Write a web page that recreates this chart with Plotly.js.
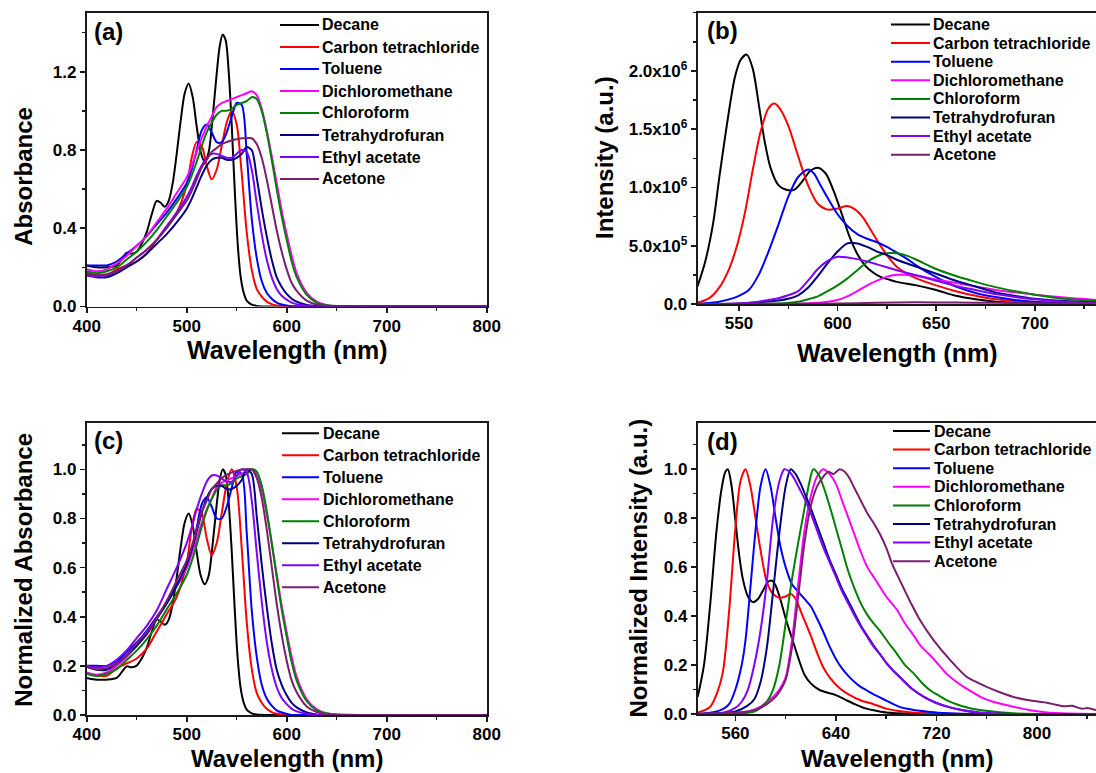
<!DOCTYPE html>
<html>
<head>
<meta charset="utf-8">
<script src="https://cdn.plot.ly/plotly-3.0.1.min.js"></script>
<style>
  html, body { margin: 0; padding: 0; background: #ffffff; }
  #chart { width: 1096px; height: 773px; }
</style>
</head>
<body>
<div id="chart"></div>
<script>
// ---------- solvents and colours ----------
const solvents = ['Decane', 'Carbon tetrachloride', 'Toluene', 'Dichloromethane',
                  'Chloroform', 'Tetrahydrofuran', 'Ethyl acetate', 'Acetone'];
const solventColors = ['#000000', '#ff0000', '#0000ff', '#ff00ff',
                       '#008000', '#000080', '#8000ff', '#7a1e6e'];

// ---------- (a) absorption spectra ----------
const absWl = [400,410,420,430,440,450,460,470,480,490,500,505,510,515,520,525,530,535,540,545,
               550,555,560,565,570,575,580,585,590,595,600,605,610,620,630,640,650,700,800];
const absDecaneWl = [400,410,420,430,436,440,445,450,455,460,465,470,474,478,482,486,490,494,498,502,
                     506,510,514,518,522,526,530,533,536,539,542,545,548,551,554,557,560,565,570,580,600,700,800];
const absDecane = [0.21,0.20,0.20,0.21,0.25,0.275,0.27,0.28,0.32,0.38,0.47,0.54,0.53,0.51,0.54,0.63,0.78,0.95,1.09,1.14,
                   1.07,0.92,0.79,0.74,0.79,0.97,1.19,1.33,1.39,1.36,1.20,0.93,0.60,0.32,0.15,0.07,0.03,0.01,0.003,0,0,0,0];
const absCCl4 = [0.17,0.16,0.16,0.19,0.21,0.23,0.27,0.34,0.41,0.48,0.62,0.76,0.84,0.82,0.72,0.65,0.70,0.82,0.94,1.00,
                 0.93,0.68,0.38,0.19,0.09,0.05,0.025,0.012,0.005,0.002,0,0,0,0,0,0,0,0,0];
const absToluene = [0.21,0.21,0.21,0.23,0.27,0.31,0.36,0.42,0.48,0.55,0.63,0.70,0.80,0.90,0.93,0.89,0.84,0.84,0.89,0.97,
                    1.04,1.03,0.78,0.45,0.25,0.13,0.07,0.04,0.02,0.01,0.005,0,0,0,0,0,0,0,0];
const absDCM = [0.19,0.18,0.19,0.22,0.26,0.31,0.36,0.43,0.50,0.58,0.66,0.72,0.79,0.86,0.92,0.97,1.02,1.04,1.05,1.06,
                1.07,1.08,1.09,1.10,1.08,1.01,0.90,0.77,0.63,0.49,0.37,0.26,0.17,0.07,0.025,0.008,0.002,0,0];
const absChloroform = [0.18,0.17,0.18,0.20,0.24,0.28,0.33,0.39,0.46,0.53,0.61,0.67,0.74,0.82,0.89,0.94,0.98,1.00,1.00,1.01,
                       1.03,1.04,1.05,1.07,1.06,1.00,0.89,0.75,0.60,0.46,0.34,0.23,0.15,0.06,0.02,0.006,0.002,0,0];
const absTHF = [0.16,0.15,0.15,0.17,0.20,0.23,0.27,0.32,0.37,0.43,0.50,0.55,0.61,0.67,0.72,0.75,0.76,0.76,0.75,0.75,
                0.76,0.78,0.815,0.80,0.66,0.50,0.36,0.24,0.15,0.10,0.065,0.04,0.025,0.008,0.002,0,0,0,0];
const absEtOAc = [0.16,0.155,0.16,0.18,0.21,0.25,0.29,0.34,0.41,0.48,0.56,0.61,0.67,0.72,0.76,0.78,0.78,0.77,0.76,0.76,
                  0.78,0.80,0.79,0.70,0.53,0.37,0.24,0.15,0.09,0.055,0.035,0.02,0.012,0.004,0,0,0,0,0];
const absAcetone = [0.17,0.16,0.165,0.18,0.21,0.25,0.29,0.34,0.40,0.47,0.54,0.59,0.65,0.71,0.75,0.79,0.81,0.83,0.84,0.85,
                    0.855,0.86,0.86,0.86,0.83,0.76,0.65,0.52,0.39,0.28,0.19,0.12,0.08,0.03,0.01,0.003,0,0,0];

// ---------- (c) normalized absorption ----------
const nAbsDecane = [0.151,0.144,0.144,0.151,0.180,0.198,0.194,0.201,0.230,0.273,0.338,0.388,0.381,0.367,0.388,0.453,0.561,0.683,0.784,0.820,
                    0.770,0.662,0.568,0.532,0.568,0.698,0.856,0.957,1.000,0.978,0.863,0.669,0.432,0.230,0.108,0.050,0.022,0.007,0.002,0,0,0,0];
const nAbsCCl4 = [0.17,0.16,0.16,0.19,0.21,0.23,0.27,0.34,0.41,0.48,0.62,0.76,0.84,0.82,0.72,0.65,0.70,0.82,0.94,1.00,
                  0.93,0.68,0.38,0.19,0.09,0.05,0.025,0.012,0.005,0.002,0,0,0,0,0,0,0,0,0];
const nAbsToluene = [0.200,0.200,0.200,0.219,0.257,0.295,0.343,0.400,0.457,0.524,0.600,0.667,0.762,0.857,0.886,0.848,0.800,0.800,0.848,0.924,
                     0.990,0.981,0.743,0.429,0.238,0.124,0.067,0.038,0.019,0.010,0.005,0,0,0,0,0,0,0,0];
const nAbsDCM = [0.173,0.164,0.173,0.200,0.236,0.282,0.327,0.391,0.455,0.527,0.600,0.655,0.718,0.782,0.836,0.882,0.927,0.945,0.955,0.964,
                 0.973,0.982,0.991,1.000,0.982,0.918,0.818,0.700,0.573,0.445,0.336,0.236,0.155,0.064,0.023,0.007,0.002,0,0];
const nAbsChloroform = [0.168,0.159,0.168,0.187,0.224,0.262,0.308,0.364,0.430,0.495,0.570,0.626,0.692,0.766,0.832,0.879,0.916,0.935,0.935,0.944,
                        0.963,0.972,0.981,1.000,0.991,0.935,0.832,0.701,0.561,0.430,0.318,0.215,0.140,0.056,0.019,0.006,0.002,0,0];
const nAbsTHF = [0.196,0.184,0.184,0.209,0.245,0.282,0.331,0.393,0.454,0.528,0.613,0.675,0.748,0.822,0.883,0.920,0.933,0.933,0.920,0.920,
                 0.933,0.957,1.000,0.982,0.810,0.613,0.442,0.294,0.184,0.123,0.080,0.049,0.031,0.010,0.002,0,0,0,0];
const nAbsEtOAc = [0.200,0.194,0.200,0.225,0.263,0.313,0.363,0.425,0.513,0.600,0.700,0.763,0.838,0.900,0.950,0.975,0.975,0.963,0.950,0.950,
                   0.975,1.000,0.988,0.875,0.663,0.463,0.300,0.188,0.113,0.069,0.044,0.025,0.015,0.005,0,0,0,0,0];
const nAbsAcetone = [0.198,0.186,0.192,0.209,0.244,0.291,0.337,0.395,0.465,0.547,0.628,0.686,0.756,0.826,0.872,0.919,0.942,0.965,0.977,0.988,
                     0.994,1.000,1.000,1.000,0.965,0.884,0.756,0.605,0.453,0.326,0.221,0.140,0.093,0.035,0.012,0.003,0,0,0];

// ---------- (b) emission spectra (intensity, a.u.) ----------
const emDecaneWl = [529,533,537,540,544,548,551,554,557,560,563,566,570,574,578,582,586,590,594,598,
                    602,606,610,614,618,622,626,630,640,650,660,670,680,690,700,731];
const emDecane = [1.5e5,3.7e5,7.0e5,1.08e6,1.55e6,1.95e6,2.10e6,2.14e6,2.02e6,1.72e6,1.40e6,1.17e6,1.02e6,9.8e5,9.8e5,1.05e6,1.14e6,1.17e6,1.12e6,9.7e5,
                  7.8e5,5.8e5,4.3e5,3.3e5,2.7e5,2.3e5,2.1e5,1.9e5,1.6e5,1.2e5,7e4,4e4,2e4,1e4,5e3,0];
const emCCl4Wl = [529,535,540,545,549,553,557,561,565,568,571,575,580,585,590,595,600,605,609,613,
                  617,621,625,630,635,640,650,660,670,680,690,700,715,731];
const emCCl4 = [1e4,5e4,1.4e5,3.0e5,5.0e5,7.8e5,1.15e6,1.48e6,1.68e6,1.72e6,1.67e6,1.53e6,1.27e6,1.02e6,8.6e5,8.1e5,8.2e5,8.4e5,8.1e5,7.4e5,
                6.3e5,5.2e5,4.2e5,3.2e5,2.6e5,2.2e5,1.6e5,1.1e5,7e4,4e4,2.5e4,1.5e4,6e3,2e3];
const emTolueneWl = [529,540,545,550,555,560,565,570,575,580,585,588,591,595,600,605,610,615,620,625,
                     630,635,640,650,660,670,680,690,700,715,731];
const emToluene = [0,2e4,4e4,7e4,1.2e5,2.5e5,4.5e5,6.8e5,9.2e5,1.09e6,1.155e6,1.12e6,1.03e6,9.1e5,7.7e5,6.7e5,6.0e5,5.6e5,5.3e5,4.9e5,
                   4.4e5,3.9e5,3.3e5,2.3e5,1.5e5,9.5e4,6e4,3.5e4,2e4,8e3,3e3];
const emDCMWl = [529,580,590,595,600,605,610,615,620,625,630,635,640,650,660,670,680,690,700,715,731];
const emDCM = [0,3e3,1e4,2e4,3.5e4,6.5e4,1.1e5,1.6e5,2.0e5,2.35e5,2.5e5,2.5e5,2.45e5,2.1e5,1.8e5,1.5e5,1.2e5,1.0e5,8e4,5.5e4,3.5e4];
const emChloroformWl = [529,570,580,585,590,595,600,605,610,615,620,625,630,635,640,650,660,670,680,690,700,715,731];
const emChloroform = [0,5e3,2e4,4e4,6.5e4,1.1e5,1.6e5,2.2e5,2.9e5,3.6e5,4.1e5,4.35e5,4.35e5,4.15e5,3.8e5,3.0e5,2.4e5,1.9e5,1.45e5,1.1e5,8e4,4.5e4,2.5e4];
const emTHFWl = [529,550,560,570,575,580,585,590,595,600,605,610,615,620,625,630,640,650,660,670,680,690,700,715,731];
const emTHF = [0,5e3,1.5e4,3e4,4.5e4,7.5e4,1.4e5,2.4e5,3.5e5,4.5e5,5.2e5,5.2e5,4.9e5,4.5e5,4.2e5,3.8e5,3.2e5,2.6e5,2.0e5,1.5e5,1.0e5,7e4,4.5e4,2.5e4,1.2e4];
const emEtOAcWl = [529,550,560,565,570,575,580,585,590,595,600,605,610,615,620,625,630,640,650,660,670,680,690,700,715,731];
const emEtOAc = [0,5e3,2e4,3.5e4,5e4,7.5e4,1.1e5,2.0e5,3.0e5,3.7e5,4.05e5,4.0e5,3.85e5,3.65e5,3.4e5,3.15e5,2.9e5,2.45e5,2.0e5,1.55e5,1.2e5,8.5e4,6e4,4e4,2e4,1e4];
const emAcetoneWl = [529,580,600,620,640,660,680,700,731];
const emAcetone = [0,2e3,5e3,1e4,1.4e4,1.3e4,1e4,7e3,4e3];

// ---------- (d) normalized emission ----------
const nEmDecaneWl = [530,535,540,545,549,552,554,557,560,563,566,570,574,578,582,586,589,592,596,600,
                     605,610,615,620,627,635,640,647,655,662,670,680,700,847];
const nEmDecane = [0.07,0.20,0.45,0.75,0.92,0.99,1.00,0.93,0.79,0.65,0.55,0.48,0.457,0.47,0.505,0.54,0.545,0.525,0.465,0.39,
                   0.31,0.23,0.16,0.125,0.098,0.085,0.077,0.06,0.04,0.025,0.015,0.006,0.001,0];
const nEmCCl4Wl = [530,540,545,550,555,560,564,568,572,576,580,585,590,595,600,604,608,612,616,620,
                   625,630,635,643,650,660,670,680,690,700,720,740,847];
const nEmCCl4 = [0.005,0.03,0.08,0.17,0.42,0.76,0.95,1.00,0.93,0.80,0.67,0.54,0.49,0.475,0.48,0.49,0.47,0.42,0.37,0.32,
                 0.25,0.19,0.15,0.105,0.08,0.055,0.04,0.022,0.012,0.006,0.002,0,0];
const nEmTolueneWl = [530,540,550,555,560,565,568,572,576,580,584,588,592,596,600,605,610,615,620,625,
                      630,635,640,645,650,655,660,665,670,675,680,690,700,715,730,750,847];
const nEmToluene = [0,0.005,0.02,0.04,0.10,0.20,0.30,0.52,0.75,0.93,1.00,0.93,0.80,0.68,0.60,0.53,0.50,0.47,0.44,0.39,
                    0.335,0.275,0.225,0.185,0.155,0.13,0.11,0.095,0.08,0.068,0.055,0.03,0.018,0.008,0.003,0,0];
const nEmDCMWl = [530,560,570,580,585,590,595,600,605,610,615,620,625,630,635,640,645,650,655,660,
                  665,670,675,680,688,695,702,708,715,722,728,735,742,750,755,765,781,795,808,820,847];
const nEmDCM = [0,0.005,0.01,0.03,0.05,0.07,0.10,0.15,0.30,0.53,0.75,0.89,0.97,1.00,0.98,0.94,0.87,0.80,0.73,0.66,
                0.60,0.56,0.52,0.48,0.43,0.37,0.32,0.275,0.24,0.20,0.165,0.135,0.11,0.085,0.07,0.05,0.03,0.015,0.006,0.003,0];
const nEmChloroformWl = [530,570,575,580,585,590,595,600,605,610,615,619,622,626,630,635,640,645,650,655,
                         660,665,670,675,682,688,695,702,708,715,722,728,740,755,770,781,800,847];
const nEmChloroform = [0,0.005,0.01,0.025,0.05,0.10,0.20,0.37,0.55,0.70,0.84,0.95,1.00,0.98,0.93,0.85,0.76,0.67,0.58,0.51,
                       0.45,0.405,0.37,0.34,0.29,0.25,0.20,0.165,0.13,0.097,0.075,0.057,0.033,0.016,0.007,0.003,0,0];
const nEmTHFWl = [530,560,570,575,580,585,590,595,600,604,608,612,616,620,625,630,635,640,645,650,
                  655,660,665,670,675,680,685,690,700,710,720,730,740,755,780,847];
const nEmTHF = [0,0.01,0.035,0.06,0.13,0.27,0.50,0.74,0.93,1.00,0.98,0.94,0.89,0.84,0.77,0.70,0.63,0.57,0.51,0.46,
                0.41,0.36,0.32,0.28,0.245,0.21,0.18,0.155,0.105,0.07,0.045,0.028,0.016,0.005,0,0];
const nEmEtOAcWl = [530,550,560,565,570,575,580,585,590,595,599,603,607,611,615,620,625,630,635,640,
                    645,650,655,660,665,670,675,680,685,690,700,710,720,730,740,755,780,847];
const nEmEtOAc = [0,0.005,0.025,0.05,0.10,0.20,0.34,0.54,0.80,0.95,1.00,0.99,0.96,0.92,0.88,0.82,0.75,0.68,0.62,0.56,
                  0.50,0.45,0.40,0.355,0.315,0.275,0.245,0.21,0.18,0.155,0.105,0.07,0.045,0.028,0.016,0.005,0,0];
const nEmAcetoneWl = [530,570,580,590,595,600,605,610,615,620,625,630,634,638,643,647,650,655,660,665,
                      670,675,680,685,691,700,707,718,731,744,752,760,770,781,795,808,815,822,828,835,841,847];
const nEmAcetone = [0,0.01,0.025,0.06,0.09,0.14,0.27,0.48,0.70,0.85,0.93,0.97,0.99,0.98,1.00,0.99,0.97,0.92,0.87,0.82,
                    0.78,0.735,0.68,0.61,0.545,0.45,0.383,0.30,0.22,0.152,0.13,0.111,0.09,0.07,0.055,0.046,0.038,0.032,0.034,0.022,0.024,0.016];

// ---------- (b) tick labels ----------
const intensityTickVals = [0, 5e5, 1e6, 1.5e6, 2e6];
const intensityTickText = ['0.0', '5.0x10<sup>5</sup>', '1.0x10<sup>6</sup>', '1.5x10<sup>6</sup>', '2.0x10<sup>6</sup>'];

// ---------- assemble traces ----------
const panels = [
  { xa: 'x',  ya: 'y',  series: [[absDecaneWl, absDecane], [absWl, absCCl4], [absWl, absToluene], [absWl, absDCM],
                                 [absWl, absChloroform], [absWl, absTHF], [absWl, absEtOAc], [absWl, absAcetone]] },
  { xa: 'x2', ya: 'y2', series: [[emDecaneWl, emDecane], [emCCl4Wl, emCCl4], [emTolueneWl, emToluene], [emDCMWl, emDCM],
                                 [emChloroformWl, emChloroform], [emTHFWl, emTHF], [emEtOAcWl, emEtOAc], [emAcetoneWl, emAcetone]] },
  { xa: 'x3', ya: 'y3', series: [[absDecaneWl, nAbsDecane], [absWl, nAbsCCl4], [absWl, nAbsToluene], [absWl, nAbsDCM],
                                 [absWl, nAbsChloroform], [absWl, nAbsTHF], [absWl, nAbsEtOAc], [absWl, nAbsAcetone]] },
  { xa: 'x4', ya: 'y4', series: [[nEmDecaneWl, nEmDecane], [nEmCCl4Wl, nEmCCl4], [nEmTolueneWl, nEmToluene], [nEmDCMWl, nEmDCM],
                                 [nEmChloroformWl, nEmChloroform], [nEmTHFWl, nEmTHF], [nEmEtOAcWl, nEmEtOAc], [nEmAcetoneWl, nEmAcetone]] }
];

const traces = [];
panels.forEach(function (p) {
  p.series.forEach(function (s, i) {
    traces.push({
      type: 'scatter', mode: 'lines',
      x: s[0], y: s[1],
      xaxis: p.xa, yaxis: p.ya,
      name: solvents[i], showlegend: false,
      line: { color: solventColors[i], width: 2, shape: 'spline', smoothing: 0.8 },
      hoverinfo: 'skip'
    });
  });
});

// ---------- layout ----------
const W = 1096, H = 773;
const FONT = '"Liberation Sans", Arial, Helvetica, sans-serif';
const px = function (x) { return x / W; };
const py = function (y) { return 1 - y / H; };

function axisStyle(extra) {
  const base = {
    showline: true, linecolor: '#1a1a1a', linewidth: 1.8, mirror: true,
    showgrid: false, zeroline: false,
    ticks: 'outside', ticklen: 5, tickwidth: 1.6, tickcolor: '#1a1a1a',
    tickfont: { family: FONT, size: 17, color: '#000', weight: 'bold' },
    automargin: false, fixedrange: true
  };
  return Object.assign(base, extra);
}
// x axes keep their labels snug under the frame
function xAxisStyle(extra) {
  return axisStyle(Object.assign({ ticklabelstandoff: -2 }, extra));
}
function minor(dtick, tick0) {
  return { ticks: 'outside', ticklen: 3, tickwidth: 1.4, tickcolor: '#1a1a1a',
           tickmode: 'linear', tick0: tick0, dtick: dtick, showgrid: false };
}

const annotations = [];
const shapes = [];

function text(x, y, str, size, opts) {
  annotations.push(Object.assign({
    xref: 'paper', yref: 'paper', x: px(x), y: py(y), text: '<b>' + str + '</b>',
    showarrow: false, xanchor: 'center', yanchor: 'middle', borderpad: 0,
    font: { family: FONT, size: size, color: '#000' }
  }, opts || {}));
}

// axis titles
text(22.8, 176, 'Absorbance', 24, { textangle: -90 });
text(604, 158, 'Intensity (a.u.)', 24, { textangle: -90 });
text(22.8, 570, 'Normalized Absorbance', 24, { textangle: -90 });
text(637.5, 568, 'Normalized Intensity (a.u.)', 24, { textangle: -90 });
text(286.7, 335, 'Wavelength (nm)', 25, { yanchor: 'top' });
text(896.5, 338, 'Wavelength (nm)', 25, { yanchor: 'top' });
text(286.7, 744, 'Wavelength (nm)', 24, { yanchor: 'top' });
text(896.5, 773, 'Wavelength (nm)', 24, { yanchor: 'bottom' });

// panel letters
text(93, 32, '(a)', 24, { xanchor: 'left' });
text(706, 31, '(b)', 24, { xanchor: 'left' });
text(93, 440, '(c)', 24, { xanchor: 'left' });
text(706, 441, '(d)', 24, { xanchor: 'left' });

// legends, one per panel
const legendBoxes = [
  { lineX0: 280, lineX1: 319, textX: 321, y0: 25, dy: 22 },
  { lineX0: 891, lineX1: 930, textX: 932, y0: 24.5, dy: 18.6 },
  { lineX0: 282, lineX1: 319, textX: 322, y0: 433.3, dy: 22 },
  { lineX0: 893, lineX1: 930, textX: 933, y0: 431, dy: 18.6 }
];
legendBoxes.forEach(function (L) {
  solvents.forEach(function (name, i) {
    const yy = L.y0 + i * L.dy;
    shapes.push({ type: 'line', xref: 'paper', yref: 'paper',
                  x0: px(L.lineX0), x1: px(L.lineX1), y0: py(yy), y1: py(yy),
                  line: { color: solventColors[i], width: 2 } });
    text(L.textX, yy, name, 16, { xanchor: 'left' });
  });
});

const layout = {
  width: W, height: H,
  margin: { l: 0, r: 0, t: 0, b: 0, pad: 0 },
  paper_bgcolor: '#ffffff', plot_bgcolor: '#ffffff',
  showlegend: false,
  font: { family: FONT, color: '#000' },

  xaxis: xAxisStyle({ domain: [px(86.7), px(486.7)], anchor: 'y', range: [400, 800],
                      tickmode: 'linear', tick0: 400, dtick: 100, minor: minor(50, 400) }),
  yaxis: axisStyle({ domain: [py(306.5), py(13)], anchor: 'x', range: [0, 1.5],
                     tickmode: 'linear', tick0: 0, dtick: 0.4, tickformat: '.1f', minor: minor(0.2, 0) }),

  xaxis2: xAxisStyle({ domain: [px(697.5), 1], anchor: 'y2', range: [529, 731],
                       tickmode: 'linear', tick0: 550, dtick: 50, minor: minor(25, 550) }),
  yaxis2: axisStyle({ domain: [py(304), py(12.7)], anchor: 'x2', range: [0, 2.5e6],
                      tickmode: 'array', tickvals: intensityTickVals, ticktext: intensityTickText,
                      minor: minor(2.5e5, 0) }),

  xaxis3: xAxisStyle({ domain: [px(86.7), px(486.7)], anchor: 'y3', range: [400, 800],
                       tickmode: 'linear', tick0: 400, dtick: 100, minor: minor(50, 400) }),
  yaxis3: axisStyle({ domain: [py(715), py(422.7)], anchor: 'x3', range: [0, 1.19],
                      tickmode: 'linear', tick0: 0, dtick: 0.2, tickformat: '.1f', minor: minor(0.1, 0) }),

  xaxis4: xAxisStyle({ domain: [px(697.7), 1], anchor: 'y4', range: [530, 847],
                       tickmode: 'linear', tick0: 560, dtick: 80, minor: minor(40, 560) }),
  yaxis4: axisStyle({ domain: [py(714), py(422.7)], anchor: 'x4', range: [0, 1.19],
                      tickmode: 'linear', tick0: 0, dtick: 0.2, tickformat: '.1f', minor: minor(0.1, 0) }),

  annotations: annotations,
  shapes: shapes
};

Plotly.newPlot('chart', traces, layout, { staticPlot: true, displayModeBar: false });
</script>
</body>
</html>
